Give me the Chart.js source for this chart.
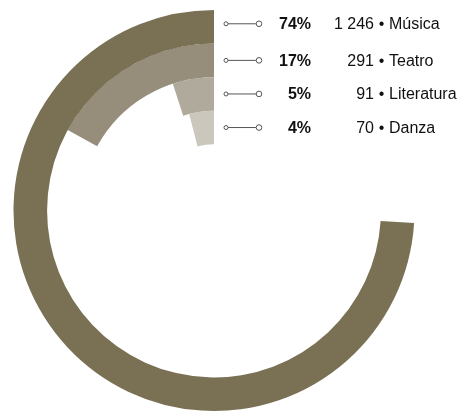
<!DOCTYPE html>
<html>
<head>
<meta charset="utf-8">
<script src="https://cdn.jsdelivr.net/npm/chart.js@4.4.1/dist/chart.umd.min.js"></script>
<style>
  html, body { margin: 0; padding: 0; background: #fff; }
  #wrap { position: relative; width: 462px; height: 412px; }
</style>
</head>
<body>
<div id="wrap"><canvas id="rings"></canvas></div>
<script>
// Datos
const categorias = ["Música", "Teatro", "Literatura", "Danza"];
const cantidades = [1246, 291, 91, 70];
const porcentajes = [74, 17, 5, 4];
const colores = ["#7a7155", "#968e7a", "#b0aa9c", "#cbc7bc"];

// Cada anillo: parte vacía + parte coloreada (termina arriba, crece en sentido antihorario)
const datasets = porcentajes.map((p, i) => ({
  label: categorias[i],
  data: [100 - p, p],
  backgroundColor: ["rgba(0,0,0,0)", colores[i]],
  borderWidth: 0,
}));

function formatoMiles(n) {
  return String(n).replace(/\B(?=(\d{3})+(?!\d))/g, " ");
}

// Etiquetas a la derecha de cada anillo
const etiquetas = {
  id: "etiquetas",
  afterDraw(chart) {
    const ctx = chart.ctx;
    ctx.save();
    chart.data.datasets.forEach((ds, i) => {
      const arc = chart.getDatasetMeta(i).data[1];
      const y = arc.y - (arc.outerRadius + arc.innerRadius) / 2 - (i === 0 ? 3 : 0);

      // conector
      ctx.strokeStyle = "#555";
      ctx.lineWidth = 1;
      ctx.beginPath();
      ctx.moveTo(228, y);
      ctx.lineTo(256, y);
      ctx.stroke();
      ctx.fillStyle = "#fff";
      ctx.beginPath();
      ctx.arc(226, y, 2, 0, Math.PI * 2);
      ctx.fill();
      ctx.stroke();
      ctx.beginPath();
      ctx.arc(259, y, 2.8, 0, Math.PI * 2);
      ctx.fill();
      ctx.stroke();

      ctx.fillStyle = "#111";
      ctx.textBaseline = "middle";
      ctx.font = 'bold 16px "Liberation Sans", Arial, sans-serif';
      ctx.textAlign = "right";
      ctx.fillText(porcentajes[i] + "%", 311, y + 1);

      ctx.font = '16px "Liberation Sans", Arial, sans-serif';
      ctx.fillText(formatoMiles(cantidades[i]), 374, y + 1);
      ctx.textAlign = "center";
      ctx.fillText("•", 381.5, y + 1);
      ctx.textAlign = "left";
      ctx.fillText(categorias[i], 389, y + 1);
    });
    ctx.restore();
  },
};

const ctx = document.getElementById("rings").getContext("2d");
new Chart(ctx, {
  type: "doughnut",
  data: {
    labels: ["", ""],
    datasets: datasets,
  },
  options: {
    responsive: true,
    maintainAspectRatio: false,
    animation: false,
    events: [],
    cutout: "33%",
    layout: {
      padding: { left: 13.5, right: 47.5, top: 10, bottom: 1 },
    },
    plugins: {
      legend: { display: false },
      tooltip: { enabled: false },
    },
  },
  plugins: [etiquetas],
});
</script>
</body>
</html>
